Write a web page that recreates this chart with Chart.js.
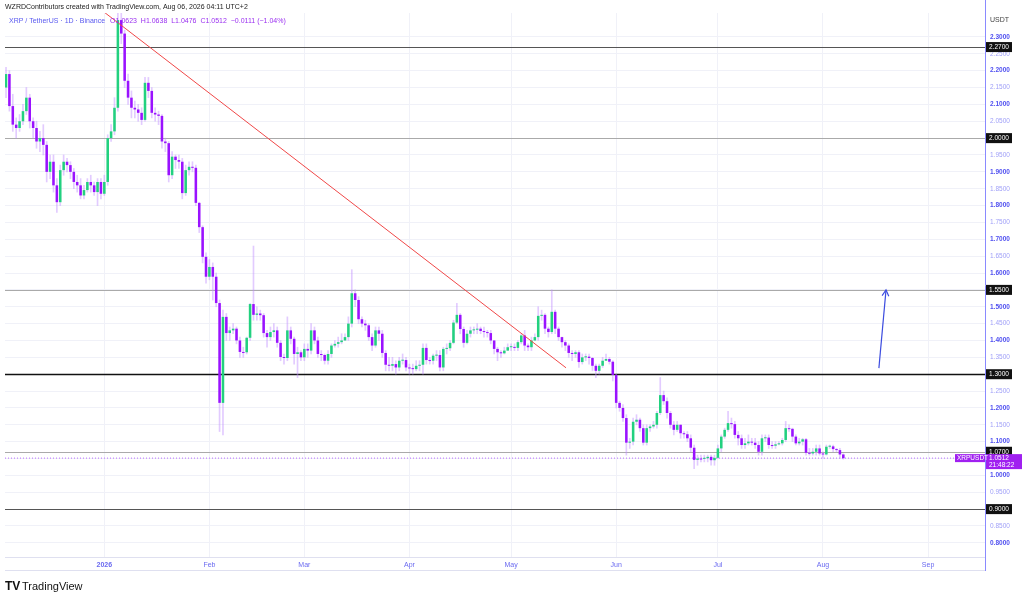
<!DOCTYPE html>
<html><head><meta charset="utf-8">
<script src="https://cdn.jsdelivr.net/npm/chart.js@4/dist/chart.umd.min.js"></script>
<style>html,body{margin:0;padding:0;background:#fff;}#w{position:relative;width:1024px;height:599px;}canvas{display:block}</style>
</head><body><div id="w"><canvas id="c" width="1024" height="599"></canvas></div>
<script>
const firstOpen = 2.15;
const closes = [2.19,2.095,2.04,2.03,2.05,2.08,2.12,2.05,2.03,1.99,2.00,1.98,1.90,1.93,1.86,1.81,1.905,1.93,1.92,1.90,1.87,1.86,1.83,1.846,1.87,1.86,1.84,1.87,1.835,1.87,
2.00,2.02,2.09,2.35,2.31,2.17,2.12,2.09,2.085,2.075,2.054,2.164,2.14,2.075,2.07,2.066,1.99,1.985,1.89,1.945,1.935,1.93,1.837,1.905,1.915,1.912,1.808,1.736,1.648,1.589,
1.618,1.589,1.511,1.215,1.47,1.422,1.43,1.435,1.40,1.366,1.365,1.408,1.508,1.476,1.48,1.475,1.422,1.41,1.425,1.43,1.393,1.351,1.348,1.43,1.405,1.36,1.365,1.35,1.375,1.37,
1.43,1.40,1.36,1.357,1.34,1.36,1.385,1.39,1.395,1.40,1.41,1.45,1.54,1.52,1.463,1.45,1.445,1.41,1.385,1.43,1.42,1.363,1.328,1.325,1.33,1.32,1.34,1.342,1.32,1.318,
1.315,1.325,1.328,1.378,1.342,1.34,1.355,1.357,1.32,1.375,1.377,1.393,1.453,1.476,1.434,1.393,1.42,1.43,1.432,1.435,1.428,1.425,1.422,1.40,1.375,1.365,1.362,1.37,1.38,1.381,
1.378,1.395,1.415,1.385,1.38,1.40,1.41,1.473,1.476,1.435,1.425,1.485,1.435,1.41,1.395,1.385,1.363,1.36,1.365,1.336,1.35,1.352,1.348,1.325,1.31,1.325,1.34,1.345,1.337,1.298,
1.215,1.20,1.17,1.097,1.10,1.159,1.165,1.14,1.097,1.14,1.145,1.15,1.185,1.238,1.22,1.185,1.15,1.135,1.15,1.125,1.122,1.11,1.082,1.046,1.05,1.049,1.051,1.055,1.045,1.052,
1.08,1.115,1.135,1.155,1.152,1.12,1.11,1.09,1.095,1.10,1.097,1.09,1.07,1.11,1.112,1.09,1.088,1.092,1.095,1.105,1.14,1.138,1.115,1.095,1.10,1.107,1.067,1.065,1.07,1.08,
1.065,1.062,1.085,1.086,1.078,1.075,1.062,1.051];
const highs = [2.21,2.20,2.13,2.06,2.07,2.10,2.15,2.13,2.06,2.05,2.02,2.04,1.99,1.95,1.95,1.88,1.92,1.95,1.94,1.93,1.91,1.89,1.88,1.86,1.88,1.89,1.87,1.88,1.88,1.89,
2.01,2.04,2.12,2.38,2.38,2.32,2.19,2.14,2.11,2.10,2.09,2.18,2.18,2.15,2.09,2.08,2.07,2.00,1.99,1.96,1.95,1.95,1.94,1.92,1.93,1.93,1.92,1.81,1.74,1.66,
1.64,1.63,1.60,1.52,1.49,1.48,1.44,1.45,1.44,1.41,1.38,1.41,1.51,1.68,1.50,1.49,1.48,1.43,1.44,1.45,1.44,1.40,1.36,1.47,1.44,1.41,1.38,1.37,1.39,1.39,
1.45,1.44,1.41,1.37,1.36,1.37,1.39,1.40,1.41,1.42,1.42,1.47,1.61,1.55,1.53,1.47,1.46,1.45,1.42,1.44,1.44,1.43,1.37,1.35,1.35,1.34,1.35,1.36,1.35,1.33,
1.33,1.34,1.34,1.39,1.39,1.35,1.36,1.37,1.37,1.38,1.39,1.40,1.46,1.51,1.48,1.44,1.43,1.44,1.44,1.45,1.44,1.44,1.43,1.43,1.40,1.38,1.37,1.38,1.39,1.39,
1.39,1.40,1.42,1.43,1.39,1.41,1.42,1.50,1.49,1.48,1.44,1.55,1.49,1.44,1.41,1.40,1.39,1.37,1.37,1.37,1.36,1.36,1.36,1.35,1.33,1.33,1.35,1.36,1.35,1.34,
1.30,1.22,1.21,1.18,1.11,1.17,1.18,1.17,1.15,1.15,1.15,1.16,1.19,1.29,1.25,1.23,1.19,1.16,1.16,1.15,1.13,1.13,1.12,1.09,1.06,1.06,1.06,1.06,1.06,1.06,
1.09,1.12,1.14,1.19,1.17,1.16,1.13,1.12,1.11,1.12,1.11,1.11,1.10,1.12,1.12,1.12,1.10,1.10,1.10,1.11,1.16,1.15,1.14,1.12,1.11,1.11,1.11,1.08,1.08,1.09,
1.09,1.07,1.09,1.09,1.09,1.08,1.08,1.064];
const lows = [2.12,2.08,2.02,2.00,2.02,2.04,2.07,2.03,2.00,1.97,1.96,1.95,1.87,1.88,1.84,1.78,1.80,1.89,1.90,1.88,1.85,1.84,1.82,1.82,1.84,1.84,1.83,1.80,1.82,1.83,
1.86,1.99,2.01,2.08,2.28,2.15,2.10,2.06,2.06,2.05,2.04,2.05,2.12,2.06,2.05,2.04,1.97,1.96,1.87,1.88,1.91,1.91,1.82,1.83,1.89,1.90,1.80,1.72,1.63,1.57,
1.58,1.52,1.50,1.13,1.12,1.40,1.40,1.42,1.39,1.35,1.35,1.36,1.40,1.46,1.46,1.46,1.41,1.38,1.40,1.41,1.38,1.34,1.33,1.34,1.39,1.33,1.29,1.34,1.34,1.35,
1.36,1.39,1.35,1.34,1.33,1.33,1.35,1.38,1.38,1.39,1.40,1.40,1.44,1.50,1.45,1.44,1.43,1.40,1.37,1.38,1.40,1.35,1.31,1.31,1.31,1.30,1.31,1.33,1.31,1.30,
1.30,1.31,1.31,1.30,1.33,1.33,1.33,1.34,1.31,1.31,1.36,1.37,1.39,1.45,1.42,1.38,1.39,1.41,1.42,1.42,1.42,1.41,1.41,1.39,1.36,1.34,1.35,1.36,1.37,1.37,
1.37,1.37,1.39,1.37,1.37,1.37,1.40,1.40,1.46,1.42,1.41,1.42,1.42,1.40,1.38,1.37,1.35,1.34,1.35,1.32,1.33,1.34,1.33,1.31,1.29,1.30,1.32,1.34,1.33,1.28,
1.20,1.19,1.16,1.06,1.08,1.09,1.15,1.13,1.09,1.09,1.13,1.14,1.14,1.18,1.21,1.17,1.14,1.12,1.13,1.11,1.11,1.10,1.07,1.02,1.03,1.04,1.04,1.04,1.03,1.03,
1.05,1.07,1.11,1.13,1.14,1.11,1.09,1.08,1.08,1.09,1.09,1.08,1.06,1.06,1.10,1.08,1.08,1.08,1.09,1.09,1.10,1.13,1.10,1.09,1.09,1.09,1.06,1.06,1.06,1.06,
1.06,1.05,1.06,1.08,1.07,1.07,1.05,1.048];
const monthTicks = [29,60,88,119,149,180,210,241,272];
const monthLabels = ['2026','Feb','Mar','Apr','May','Jun','Jul','Aug','Sep'];
const levels = [2.27,2.00,1.55,1.30,1.07,0.90];
const levelLabels = ['2.2700','2.0000','1.5500','1.3000','1.0700','0.9000'];
const trendLine = [{x:28.9,y:2.374},{x:165.2,y:1.319}];
const arrowLine = [{x:257.5,y:1.318},{x:259.6,y:1.55}];
const lastPrice = 1.0512;

const GREEN='#22d17f', PURPLE='#9a12ff', WICK='rgba(190,140,255,0.45)';
const opens = closes.map((c,i)=> i===0 ? firstOpen : closes[i-1]);
const bodies = closes.map((c,i)=>({x:i,y:[opens[i], Math.abs(c-opens[i])<0.003 ? opens[i]+(c>=opens[i]?0.003:-0.003) : c]}));
const wicks = closes.map((c,i)=>({x:i,y:[lows[i],highs[i]]}));
const colors = closes.map((c,i)=> c>=opens[i]?GREEN:PURPLE);
const tv = (c)=> (c && c.tick) ? c.tick.value : 0;
const major = (c)=> Math.round(tv(c)*100)%10===0;

const overlay = {
  id:'overlay',
  beforeDatasetsDraw(ch){
    const {ctx, chartArea:a, scales:{x,y}} = ch;
    ctx.save();
    levels.forEach((v,i)=>{
      const py = Math.round(y.getPixelForValue(v))+0.5;
      ctx.strokeStyle = v===1.30 ? '#111' : (v===0.90||v===2.27 ? '#555' : '#aaa');
      ctx.lineWidth = v===1.30 ? 1.6 : 1;
      ctx.beginPath(); ctx.moveTo(a.left,py); ctx.lineTo(a.right,py); ctx.stroke();
    });
    const pl = y.getPixelForValue(lastPrice);
    ctx.setLineDash([1,2]); ctx.strokeStyle='#b86bff'; ctx.lineWidth=1;
    ctx.beginPath(); ctx.moveTo(a.left,pl); ctx.lineTo(a.right,pl); ctx.stroke();
    ctx.restore();
  },
  afterDraw(ch){
    const {ctx, chartArea:a, scales:{x,y}} = ch;
    ctx.save();
    const x1=x.getPixelForValue(arrowLine[0].x), y1=y.getPixelForValue(arrowLine[0].y);
    const x2=x.getPixelForValue(arrowLine[1].x), y2=y.getPixelForValue(arrowLine[1].y);
    const ang=Math.atan2(y2-y1,x2-x1);
    ctx.strokeStyle='#3d4de0'; ctx.lineWidth=1.2;
    ctx.beginPath();
    ctx.moveTo(x2-7*Math.cos(ang-0.5),y2-7*Math.sin(ang-0.5)); ctx.lineTo(x2,y2);
    ctx.lineTo(x2-7*Math.cos(ang+0.5),y2-7*Math.sin(ang+0.5)); ctx.stroke();
    ctx.strokeStyle='#8a8aff'; ctx.lineWidth=1;
    ctx.beginPath(); ctx.moveTo(a.right+0.5,a.top-13); ctx.lineTo(a.right+0.5,571); ctx.stroke();
    ctx.strokeStyle='#dfe0f0';
    ctx.beginPath(); ctx.moveTo(a.left,a.bottom+0.5); ctx.lineTo(a.right,a.bottom+0.5); ctx.stroke();
    ctx.beginPath(); ctx.moveTo(a.left,570.5); ctx.lineTo(a.right,570.5); ctx.stroke();
    ctx.font='6.5px "Liberation Sans", Arial'; ctx.textBaseline='middle'; ctx.textAlign='left';
    levels.forEach((v,i)=>{
      const py=y.getPixelForValue(v);
      ctx.fillStyle='#111'; ctx.fillRect(a.right+1,py-5,26,10);
      ctx.fillStyle='#fff'; ctx.fillText(levelLabels[i],a.right+4,py);
    });
    const pl=y.getPixelForValue(lastPrice);
    ctx.fillStyle='#a020f0'; ctx.fillRect(a.right+1,pl-4,36,15);
    ctx.fillStyle='#fff'; ctx.fillText(lastPrice.toFixed(4),a.right+4,pl);
    ctx.fillText('21:48:22',a.right+4,pl+7);
    ctx.fillStyle='#a020f0'; ctx.fillRect(a.right-30,pl-4,30,8);
    ctx.fillStyle='#fff'; ctx.fillText('XRPUSDT',a.right-28,pl);
    ctx.fillStyle='#222'; ctx.font='7px "Liberation Sans", Arial'; ctx.textBaseline='alphabetic';
    ctx.fillText('WZRDContributors created with TradingView.com, Aug 06, 2026 04:11 UTC+2',5,9);
    const t1='XRP / TetherUS · 1D · Binance';
    ctx.fillStyle='#5a5af0'; ctx.fillText(t1,9,23);
    ctx.fillStyle='#9a30f0';
    ctx.fillText('O1.0623  H1.0638  L1.0476  C1.0512  −0.0111 (−1.04%)',9+ctx.measureText(t1).width+5,23);
    ctx.fillStyle='#444'; ctx.fillText('USDT',990,22);
    ctx.fillStyle='#111'; ctx.font='bold 12px "Liberation Sans", Arial';
    ctx.fillText('TV',5,590);
    ctx.font='11px "Liberation Sans", Arial';
    ctx.fillText('TradingView',22,590);
    ctx.restore();
  }
};

new Chart(document.getElementById('c'),{
  type:'bar',
  data:{datasets:[
    {data:wicks,backgroundColor:WICK,barThickness:1,grouped:false,order:2},
    {data:bodies,backgroundColor:colors,barPercentage:0.75,categoryPercentage:1,grouped:false,order:1},
    {type:'line',data:trendLine,borderColor:'#f04848',borderWidth:1,pointRadius:0,order:0},
    {type:'line',data:arrowLine,borderColor:'#3d4de0',borderWidth:1.2,pointRadius:0,order:0}
  ]},
  options:{
    responsive:false,animation:false,
    layout:{padding:{left:5,top:13,bottom:28,right:0}},
    plugins:{legend:{display:false},tooltip:{enabled:false}},
    scales:{
      x:{type:'linear',min:-0.3,max:288.8,offset:false,
        afterBuildTicks(s){s.ticks=monthTicks.map(v=>({value:v}));},
        afterFit(s){s.height=14;},
        grid:{color:'#f0f1f8',drawTicks:false,offset:false},border:{display:false},
        ticks:{padding:4,autoSkip:false,maxRotation:0,color:'#6a6af0',
          font:(c)=>({size:7,family:'"Liberation Sans", Arial',weight:tv(c)===29?'bold':'normal'}),
          callback:(v)=>{const i=monthTicks.indexOf(v);return i>=0?monthLabels[i]:'';}}},
      y:{position:'right',min:0.758,max:2.371,
        afterBuildTicks(s){s.ticks=s.ticks.filter(t=>Math.abs(t.value*20-Math.round(t.value*20))<1e-6);},
        afterFit(s){s.width=39;},
        grid:{color:'#f0f1f8',drawTicks:false},border:{display:false},
        ticks:{stepSize:0.05,padding:5,color:(c)=>major(c)?'#5050f0':'#a0a0f8',
          font:(c)=>({size:6.5,family:'"Liberation Sans", Arial',weight:major(c)?'bold':'normal'}),
          callback:(v)=>v.toFixed(4)}}
    }
  },
  plugins:[overlay]
});
</script></body></html>
